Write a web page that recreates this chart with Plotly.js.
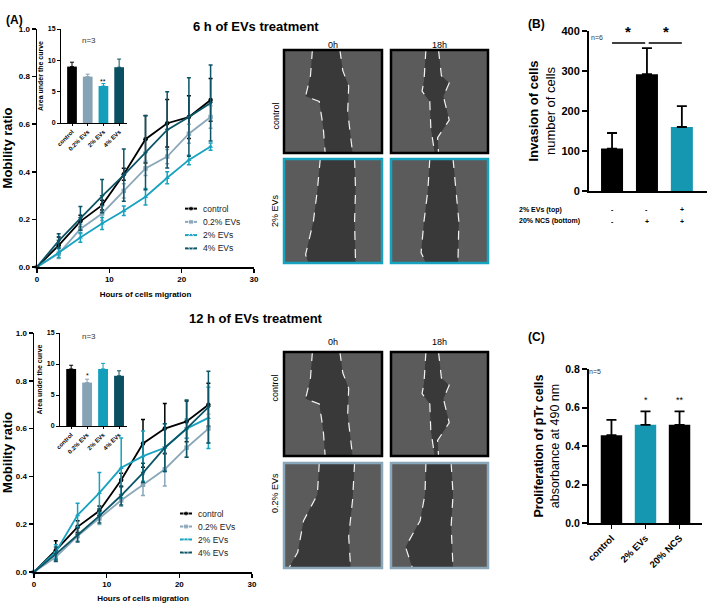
<!DOCTYPE html>
<html>
<head>
<meta charset="utf-8">
<script src="https://cdn.plot.ly/plotly-3.0.1.min.js"></script>
<style>html,body{margin:0;padding:0;background:#fff;}#chart{width:709px;height:603px;}</style>
</head>
<body>
<div id="chart"></div>
<script>
// ---------------- DATA ----------------
const hours = [0, 3, 6, 9, 12, 15, 18, 21, 24];
const seriesNames = ['control', '0.2% EVs', '2% EVs', '4% EVs'];

// 6 h of EVs treatment (mobility ratio, mean and SD)
const ctrl6 = [0, 0.091, 0.192, 0.26, 0.39, 0.537, 0.604, 0.63, 0.702];
const ctrl6Err = [0, 0.035, 0.025, 0.02, 0.025, 0.10, 0.10, 0.09, 0.09];
const ev02_6 = [0, 0.056, 0.16, 0.225, 0.32, 0.414, 0.464, 0.56, 0.63];
const ev02_6Err = [0, 0.02, 0.02, 0.03, 0.03, 0.03, 0.03, 0.04, 0.047];
const ev2_6 = [0, 0.06, 0.124, 0.183, 0.236, 0.295, 0.375, 0.45, 0.506];
const ev2_6Err = [0, 0.02, 0.02, 0.025, 0.02, 0.035, 0.025, 0.02, 0.015];
const ev4_6 = [0, 0.11, 0.204, 0.298, 0.386, 0.48, 0.576, 0.63, 0.689];
const ev4_6Err = [0, 0.03, 0.05, 0.07, 0.11, 0.155, 0.16, 0.165, 0.16];

// 12 h of EVs treatment
const ctrl12 = [0, 0.091, 0.189, 0.256, 0.385, 0.538, 0.60, 0.63, 0.70];
const ctrl12Err = [0, 0.04, 0.025, 0.02, 0.028, 0.10, 0.105, 0.085, 0.09];
const ev02_12 = [0, 0.063, 0.15, 0.224, 0.30, 0.365, 0.43, 0.52, 0.60];
const ev02_12Err = [0, 0.02, 0.02, 0.025, 0.025, 0.045, 0.07, 0.04, 0.06];
const ev2_12 = [0, 0.084, 0.238, 0.331, 0.436, 0.485, 0.52, 0.60, 0.645];
const ev2_12Err = [0, 0.03, 0.05, 0.085, 0.125, 0.105, 0.10, 0.04, 0.128];
const ev4_12 = [0, 0.075, 0.155, 0.235, 0.32, 0.415, 0.52, 0.60, 0.69];
const ev4_12Err = [0, 0.03, 0.03, 0.03, 0.04, 0.04, 0.10, 0.12, 0.15];

// Insets: area under the curve
const aucCats = ['control', '0.2% EVs', '2% EVs', '4% EVs'];
const auc6 = [9.0, 7.4, 5.9, 8.9];
const auc6Err = [0.7, 0.4, 0.4, 1.3];
const auc12 = [9.2, 7.0, 9.2, 8.1];
const auc12Err = [0.6, 0.55, 0.9, 0.8];

// (B) invasion
const invasionCats = ['g1', 'g2', 'g3'];
const invasion = [106, 292, 160];
const invasionErr = [39, 65, 52];
const evsTopRow = ['-', '-', '+'];
const ncsBottomRow = ['-', '+', '+'];

// (C) proliferation
const prolifCats = ['control', '2% EVs', '20% NCS'];
const prolif = [0.456, 0.51, 0.51];
const prolifErr = [0.08, 0.07, 0.07];

// ---------------- STYLE ----------------
const W = 709, H = 603;
const FONT = 'Arial, "Liberation Sans", sans-serif';
const colors = ['#000000', '#8aa7b9', '#17a2bf', '#0c5566'];
const barColors = ['#000000', '#86a3b5', '#139ebb', '#0b5062'];
const cyanBar = '#1597b2';
const symbols = ['circle', 'square', 'triangle-up', 'triangle-down'];
const px = v => v / W;
const py = v => 1 - v / H;

const traces = [];
function addLines(series, errs, xa, ya) {
  series.forEach((s, i) => {
    traces.push({
      type: 'scatter', mode: 'lines+markers', x: hours, y: s,
      name: seriesNames[i], xaxis: xa, yaxis: ya, showlegend: false,
      line: {color: colors[i], width: 1.8},
      marker: {color: colors[i], size: 4.5, symbol: symbols[i]},
      error_y: {type: 'data', array: errs[i], color: colors[i], thickness: 1.5, width: 2},
      cliponaxis: false
    });
  });
}
addLines([ctrl6, ev02_6, ev2_6, ev4_6], [ctrl6Err, ev02_6Err, ev2_6Err, ev4_6Err], 'x', 'y');
addLines([ctrl12, ev02_12, ev2_12, ev4_12], [ctrl12Err, ev02_12Err, ev2_12Err, ev4_12Err], 'x3', 'y3');

// compact legends (GraphPad style) drawn on their own small axes
function addLegend(xa, ya) {
  seriesNames.forEach((n, i) => {
    traces.push({
      type: 'scatter', mode: 'lines+markers', x: [0, 0.5, 1], y: [i, i, i], xaxis: xa, yaxis: ya,
      showlegend: false, hoverinfo: 'skip', cliponaxis: false,
      line: {color: colors[i], width: 2},
      marker: {color: colors[i], size: [0, 5, 0], symbol: symbols[i]}
    });
  });
}
addLegend('x7', 'y7');
addLegend('x8', 'y8');

function addAuc(vals, errs, xa, ya) {
  aucCats.forEach((c, i) => {
    traces.push({
      type: 'bar', x: [c], y: [vals[i]], xaxis: xa, yaxis: ya, showlegend: false,
      width: 0.62, marker: {color: barColors[i]},
      error_y: {type: 'data', symmetric: false, array: [errs[i]], arrayminus: [0],
                color: barColors[i], thickness: 1, width: 2}
    });
  });
}
addAuc(auc6, auc6Err, 'x2', 'y2');
addAuc(auc12, auc12Err, 'x4', 'y4');

traces.push({
  type: 'bar', x: invasionCats, y: invasion, xaxis: 'x5', yaxis: 'y5', showlegend: false,
  width: 0.63, marker: {color: ['#000000', '#000000', cyanBar]},
  error_y: {type: 'data', symmetric: false, array: invasionErr, arrayminus: [0, 0, 0],
            color: '#000', thickness: 1.8, width: 5}
});
traces.push({
  type: 'bar', x: prolifCats, y: prolif, xaxis: 'x6', yaxis: 'y6', showlegend: false,
  width: 0.63, marker: {color: ['#000000', cyanBar, '#000000']},
  error_y: {type: 'data', symmetric: false, array: prolifErr, arrayminus: [0, 0, 0],
            color: '#000', thickness: 1.8, width: 5}
});

// ---------------- AXES ----------------
function baseAxis(o) {
  return Object.assign({
    showline: true, linecolor: '#000', linewidth: 1.5, showgrid: false, zeroline: false,
    ticks: 'outside', ticklen: 4, tickwidth: 1.5, tickcolor: '#000',
    tickfont: {family: FONT, size: 8, color: '#000', weight: 'bold'}, fixedrange: true
  }, o);
}
const hiddenAxis = (d, anchor, range) => ({domain: d, anchor: anchor, range: range, visible: false, fixedrange: true});
const mainX = (d, anchor) => baseAxis({domain: d, anchor: anchor, range: [0, 30], dtick: 10,
  title: {text: 'Hours of cells migration', font: {family: FONT, size: 8, color: '#000', weight: 'bold'}, standoff: 8}});
const mainY = (d, anchor) => baseAxis({domain: d, anchor: anchor, range: [0, 1], dtick: 0.2, tickformat: '.1f',
  title: {text: 'Mobility ratio', font: {family: FONT, size: 13, color: '#000', weight: 'bold'}, standoff: 6}});
const insetX = (d, anchor) => baseAxis({domain: d, anchor: anchor, type: 'category', range: [-0.7, 3.5],
  categoryorder: 'array', categoryarray: aucCats, tickangle: -45, linewidth: 1, tickwidth: 1, ticklen: 2,
  tickfont: {family: FONT, size: 6, color: '#000', weight: 'bold'}});
const insetY = (d, anchor) => baseAxis({domain: d, anchor: anchor, range: [0, 15], dtick: 5, linewidth: 1,
  tickwidth: 1, ticklen: 3, tickfont: {family: FONT, size: 7, color: '#000', weight: 'bold'},
  title: {text: 'Area under the curve', font: {family: FONT, size: 7, color: '#000', weight: 'bold'}, standoff: 3}});

const layout = {
  width: W, height: H, margin: {l: 0, r: 0, t: 0, b: 0},
  paper_bgcolor: '#fff', plot_bgcolor: 'rgba(0,0,0,0)',
  font: {family: FONT, color: '#000'},
  showlegend: false, bargap: 0.3,
  xaxis: mainX([px(37), px(254)], 'y'),
  yaxis: mainY([py(267), py(29)], 'x'),
  xaxis2: insetX([px(61), px(127)], 'y2'),
  yaxis2: insetY([py(123), py(29)], 'x2'),
  xaxis3: mainX([px(34), px(252)], 'y3'),
  yaxis3: mainY([py(572), py(333)], 'x3'),
  xaxis4: insetX([px(60), px(127)], 'y4'),
  yaxis4: insetY([py(426), py(333)], 'x4'),
  xaxis5: baseAxis({domain: [px(589), px(707)], anchor: 'y5', type: 'category', range: [-0.66, 2.72],
    showticklabels: false, ticks: '', linewidth: 2}),
  yaxis5: baseAxis({domain: [py(191), py(31)], anchor: 'x5', range: [0, 400], dtick: 100, linewidth: 2, tickwidth: 2, ticklen: 5,
    tickfont: {family: FONT, size: 11, color: '#000', weight: 'bold'},
    title: {text: '<b>Invasion of cells</b><br>number of cells', font: {family: FONT, size: 13, color: '#000'}, standoff: 3}}),
  xaxis6: baseAxis({domain: [px(589), px(702)], anchor: 'y6', type: 'category', range: [-0.66, 2.66], tickangle: -45,
    linewidth: 2, tickwidth: 1.5, ticklen: 4, tickfont: {family: FONT, size: 9.5, color: '#000', weight: 'bold'}}),
  yaxis6: baseAxis({domain: [py(523), py(369)], anchor: 'x6', range: [0, 0.8], dtick: 0.2, tickformat: '.1f',
    linewidth: 2, tickwidth: 2, ticklen: 5, tickfont: {family: FONT, size: 10.5, color: '#000', weight: 'bold'},
    title: {text: '<b>Proliferation of pTr cells</b><br>absorbance at 490 nm', font: {family: FONT, size: 12.5, color: '#000'}, standoff: 3}}),
  xaxis7: hiddenAxis([px(185), px(197)], 'y7', [0, 1]),
  yaxis7: hiddenAxis([py(255), py(202)], 'x7', [3.5, -0.5]),
  xaxis8: hiddenAxis([px(180), px(192)], 'y8', [0, 1]),
  yaxis8: hiddenAxis([py(559), py(507)], 'x8', [3.5, -0.5]),
  shapes: [], annotations: []
};

// legend labels
[['x7', 'y7'], ['x8', 'y8']].forEach(([xa, ya]) => {
  seriesNames.forEach((n, i) => {
    layout.annotations.push({text: n, x: 1, y: i, xref: xa, yref: ya, xanchor: 'left', xshift: 4,
      showarrow: false, font: {family: FONT, size: 8.5, color: '#222'}});
  });
});

// ---------------- TEXT ----------------
function ann(text, x, y, o) {
  layout.annotations.push(Object.assign({text: text, x: px(x), y: py(y), xref: 'paper', yref: 'paper',
    showarrow: false, font: {family: FONT, size: 9, color: '#000'}}, o || {}));
}
ann('<b>(A)</b>', 4, 11, {xanchor: 'left', font: {family: FONT, size: 12, color: '#000'}});
ann('<b>(B)</b>', 526, 15, {xanchor: 'left', font: {family: FONT, size: 12, color: '#000'}});
ann('<b>(C)</b>', 526, 337, {xanchor: 'left', font: {family: FONT, size: 12, color: '#000'}});
ann('<b>6 h of EVs treatment</b>', 256, 17, {font: {family: FONT, size: 13, color: '#000'}});
ann('<b>12 h of EVs treatment</b>', 256, 318, {font: {family: FONT, size: 13, color: '#000'}});
ann('n=3', 80, 34, {font: {family: FONT, size: 8, color: '#333333'}});
ann('n=3', 80, 336, {font: {family: FONT, size: 8, color: '#333333'}});
ann('n=6', 605, 32, {font: {family: FONT, size: 7, color: '#333333'}});
ann('n=5', 603, 371, {font: {family: FONT, size: 7, color: '#333333'}});
// significance marks
layout.annotations.push({text: '**', x: '2% EVs', y: auc6[2] + auc6Err[2], xref: 'x2', yref: 'y2', yanchor: 'bottom', yshift: -3,
  showarrow: false, font: {family: FONT, size: 7, color: '#000'}});
layout.annotations.push({text: '*', x: '0.2% EVs', y: auc12[1] + auc12Err[1], xref: 'x4', yref: 'y4', yanchor: 'bottom', yshift: -2,
  showarrow: false, font: {family: FONT, size: 7, color: '#000'}});
layout.annotations.push({text: '*', x: '2% EVs', y: prolif[1] + prolifErr[1], xref: 'x6', yref: 'y6', yanchor: 'bottom', yshift: 4,
  showarrow: false, font: {family: FONT, size: 9, color: '#000'}});
layout.annotations.push({text: '**', x: '20% NCS', y: prolif[2] + prolifErr[2], xref: 'x6', yref: 'y6', yanchor: 'bottom', yshift: 4,
  showarrow: false, font: {family: FONT, size: 9, color: '#000'}});
// (B) brackets
layout.shapes.push({type: 'line', xref: 'x5', yref: 'y5', x0: 0, x1: 0.95, y0: 370, y1: 370, line: {color: '#000', width: 1.5}});
layout.shapes.push({type: 'line', xref: 'x5', yref: 'y5', x0: 1.05, x1: 2, y0: 370, y1: 370, line: {color: '#000', width: 1.5}});
layout.annotations.push({text: '<b>*</b>', x: 0.45, y: 372, xref: 'x5', yref: 'y5', yanchor: 'bottom', showarrow: false,
  font: {family: FONT, size: 15, color: '#000'}});
layout.annotations.push({text: '<b>*</b>', x: 1.55, y: 372, xref: 'x5', yref: 'y5', yanchor: 'bottom', showarrow: false,
  font: {family: FONT, size: 15, color: '#000'}});
// (B) condition table
ann('<b>2% EVs (top)</b>', 517, 210, {xanchor: 'left', font: {family: FONT, size: 7, color: '#000'}});
ann('<b>20% NCS (bottom)</b>', 517, 221, {xanchor: 'left', font: {family: FONT, size: 7, color: '#000'}});
invasionCats.forEach((c, i) => {
  layout.annotations.push({text: '<b>' + evsTopRow[i] + '</b>', x: c, xref: 'x5', y: py(210), yref: 'paper',
    showarrow: false, font: {family: FONT, size: 7, color: '#000'}});
  layout.annotations.push({text: '<b>' + ncsBottomRow[i] + '</b>', x: c, xref: 'x5', y: py(221), yref: 'paper',
    showarrow: false, font: {family: FONT, size: 7, color: '#000'}});
});

// ---------------- MICROSCOPY PANELS (illustrative placeholders) ----------------
function toPaperPath(box, pts) {
  const [x0, y0, x1, y1] = box;
  return pts.map((p, k) => (k ? 'L' : 'M') + px(x0 + p[0] * (x1 - x0)).toFixed(4) + ',' + py(y0 + p[1] * (y1 - y0)).toFixed(4)).join(' ');
}
function micro(box, border, left, right) {
  const [x0, y0, x1, y1] = box;
  layout.shapes.push({type: 'rect', xref: 'paper', yref: 'paper', x0: px(x0), x1: px(x1), y0: py(y1), y1: py(y0),
    fillcolor: '#5b5b5b', line: {width: 0}, layer: 'above'});
  const gap = left.concat(right.slice().reverse());
  layout.shapes.push({type: 'path', xref: 'paper', yref: 'paper', path: toPaperPath(box, gap) + ' Z',
    fillcolor: '#393939', line: {width: 0}, layer: 'above'});
  [left, right].forEach(l => layout.shapes.push({type: 'path', xref: 'paper', yref: 'paper', path: toPaperPath(box, l),
    line: {color: '#f2f2f2', width: 1.2, dash: 'dash'}, layer: 'above'}));
  layout.shapes.push({type: 'rect', xref: 'paper', yref: 'paper', x0: px(x0), x1: px(x1), y0: py(y1), y1: py(y0),
    line: {color: border, width: 2.5}, layer: 'above'});
}
const c0L = [[0.29,0],[0.27,0.25],[0.22,0.45],[0.36,0.5],[0.4,0.75],[0.42,1]];
const c0R = [[0.57,0],[0.6,0.2],[0.66,0.35],[0.65,0.6],[0.7,1]];
const c18L = [[0.36,0],[0.34,0.3],[0.32,0.4],[0.4,0.5],[0.41,0.75],[0.45,1]];
const c18R = [[0.49,0],[0.52,0.25],[0.6,0.32],[0.54,0.45],[0.6,0.68],[0.48,0.85],[0.49,1]];
micro([284, 50, 382, 153], '#000', c0L, c0R);
micro([391, 50, 488, 153], '#000', c18L, c18R);
micro([284, 159, 382, 263], '#17a2bf', [[0.37,0],[0.34,0.3],[0.3,0.6],[0.22,0.92],[0.25,1]], [[0.72,0],[0.73,0.3],[0.72,0.6],[0.73,1]]);
micro([391, 159, 488, 263], '#17a2bf', [[0.4,0],[0.38,0.3],[0.34,0.6],[0.31,0.9],[0.36,1]], [[0.64,0],[0.67,0.3],[0.7,0.6],[0.69,1]]);
micro([284, 352, 382, 456], '#000', c0L, c0R);
micro([391, 352, 488, 456], '#000', c18L, c18R);
micro([284, 463, 382, 568], '#8aa7b9', [[0.36,0],[0.34,0.3],[0.2,0.55],[0.14,0.85],[0.05,1]], [[0.72,0],[0.7,0.35],[0.66,0.7],[0.68,1]]);
micro([391, 463, 488, 568], '#8aa7b9', [[0.36,0],[0.35,0.3],[0.3,0.55],[0.15,0.8],[0.22,1]], [[0.62,0],[0.64,0.3],[0.62,0.6],[0.64,1]]);

ann('0h', 333, 38, {font: {family: FONT, size: 9, color: '#000'}});
ann('18h', 439, 38, {font: {family: FONT, size: 9, color: '#000'}});
ann('0h', 333, 342, {font: {family: FONT, size: 9, color: '#000'}});
ann('18h', 439, 342, {font: {family: FONT, size: 9, color: '#000'}});
ann('control', 275, 101, {textangle: -90, font: {family: FONT, size: 9, color: '#000'}});
ann('2% EVs', 275, 211, {textangle: -90, font: {family: FONT, size: 9, color: '#000'}});
ann('control', 275, 404, {textangle: -90, font: {family: FONT, size: 9, color: '#000'}});
ann('0.2% EVs', 275, 515, {textangle: -90, font: {family: FONT, size: 9, color: '#000'}});

Plotly.newPlot('chart', traces, layout, {staticPlot: true, displayModeBar: false});
</script>
</body>
</html>
